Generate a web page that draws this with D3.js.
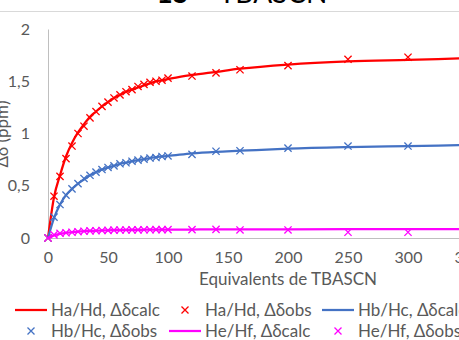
<!DOCTYPE html>
<html><head><meta charset="utf-8">
<script src="https://cdn.jsdelivr.net/npm/d3@7"></script>
<style>body{margin:0;background:#fff}svg{display:block;font-family:Lato,sans-serif}</style>
</head><body><svg id="c" width="459" height="340"></svg>
<script>
const xObs = [0,5,10,15,20,25,30,35,40,45,50,55,60,65,70,75,80,85,90,95,100,120,140,160,200,250,300];
const xCalc = [0,5,10,15,20,25,30,35,40,45,50,55,60,65,70,75,80,85,90,95,100,120,140,160,200,250,300,350];
const haCalc = [0,0.39,0.60,0.78,0.91,1.01,1.09,1.16,1.21,1.26,1.30,1.34,1.37,1.40,1.42,1.44,1.46,1.48,1.50,1.51,1.52,1.56,1.59,1.62,1.66,1.69,1.705,1.72];
const haObs  = [0,0.40,0.59,0.76,0.88,1.00,1.07,1.15,1.21,1.26,1.30,1.34,1.37,1.40,1.42,1.45,1.47,1.49,1.50,1.51,1.53,1.55,1.58,1.61,1.65,1.71,1.73];
const hbCalc = [0,0.19,0.32,0.41,0.47,0.52,0.56,0.60,0.63,0.655,0.675,0.69,0.71,0.72,0.735,0.745,0.755,0.765,0.775,0.78,0.785,0.81,0.825,0.835,0.855,0.87,0.88,0.89];
const hbObs  = [0,0.20,0.32,0.41,0.47,0.52,0.57,0.60,0.63,0.655,0.675,0.69,0.71,0.72,0.735,0.745,0.755,0.765,0.77,0.78,0.785,0.80,0.83,0.835,0.86,0.88,0.88];
const heCalc = [0,0.025,0.04,0.05,0.056,0.061,0.065,0.068,0.07,0.072,0.074,0.075,0.076,0.077,0.078,0.078,0.079,0.079,0.08,0.08,0.08,0.081,0.082,0.082,0.083,0.084,0.085,0.085];
const heObs  = [0,0.03,0.045,0.05,0.055,0.06,0.065,0.068,0.07,0.072,0.073,0.075,0.076,0.077,0.078,0.078,0.079,0.079,0.08,0.08,0.08,0.08,0.082,0.077,0.077,0.055,0.055];
const xTicks = [0,50,100,150,200,250,300,350];
const yTicks = [0,0.5,1,1.5,2];
const legendLabels = ["Ha/Hd, Δδcalc","Ha/Hd, Δδobs","Hb/Hc, Δδcalc","Hb/Hc, Δδobs","He/Hf, Δδcalc","He/Hf, Δδobs"];

const svg = d3.select("#c");
const x = d3.scaleLinear().domain([0,400]).range([48,528]);
const y = d3.scaleLinear().domain([0,2]).range([238,29]);
const grey = "#595959";

// title (mostly cropped) and top rule
const t = svg.append("text").attr("x",242).attr("y",3).attr("text-anchor","middle")
  .attr("font-size",28).attr("fill","#000");
t.append("tspan").attr("font-weight","bold").text("15");
t.append("tspan").text(" + TBASCN");
svg.append("line").attr("x1",0).attr("x2",459).attr("y1",11.5).attr("y2",11.5)
  .attr("stroke","#d9d9d9").attr("stroke-width",1);

// axes
const xa = svg.append("g").attr("transform","translate(0,238)")
  .call(d3.axisBottom(x).tickValues(xTicks).tickSize(0).tickPadding(14));
xa.select(".domain").attr("stroke","#bfbfbf");
xa.selectAll("text").attr("fill",grey).attr("font-size",16).attr("font-family","Lato,sans-serif");
const ya = svg.append("g").attr("transform","translate(48,0)")
  .call(d3.axisLeft(y).tickValues(yTicks).tickSize(0).tickPadding(18)
  .tickFormat(d=>String(d).replace(".",",")));
ya.select(".domain").attr("stroke","#bfbfbf");
ya.selectAll("text").attr("fill",grey).attr("font-size",16).attr("font-family","Lato,sans-serif");

svg.append("text").attr("x",288).attr("y",285).attr("text-anchor","middle")
  .attr("font-size",17).attr("fill",grey).text("Equivalents de TBASCN");
svg.append("text").attr("transform","translate(8,134) rotate(-90)").attr("text-anchor","middle")
  .attr("font-size",17).attr("fill",grey).text("Δδ (ppm)");

const line = d3.line().x(d=>x(d[0])).y(d=>y(d[1])).curve(d3.curveMonotoneX);
const cross = (s)=>`M${-s},${-s}L${s},${s}M${-s},${s}L${s},${-s}`;

const series = [
  {calc:haCalc, obs:haObs, color:"#ff0000"},
  {calc:hbCalc, obs:hbObs, color:"#4472c4"},
  {calc:heCalc, obs:heObs, color:"#ff00ff"}
];
series.forEach(s=>{
  svg.append("path").datum(xCalc.map((v,i)=>[v,s.calc[i]]))
    .attr("d",line).attr("fill","none").attr("stroke",s.color).attr("stroke-width",2.25);
  svg.append("g").selectAll("path").data(xObs.map((v,i)=>[v,s.obs[i]])).join("path")
    .attr("transform",d=>`translate(${x(d[0])},${y(d[1])})`)
    .attr("d",cross(3.6)).attr("fill","none").attr("stroke",s.color).attr("stroke-width",1.3);
});

// legend
const colors = ["#ff0000","#ff0000","#4472c4","#4472c4","#ff00ff","#ff00ff"];
const colX = [31,185,338];
const rowY = [310,331];
legendLabels.forEach((lab,i)=>{
  const cx = colX[i%3], cy = rowY[Math.floor(i/3)];
  if(i%2===0){
    svg.append("line").attr("x1",cx-16).attr("x2",cx+16).attr("y1",cy).attr("y2",cy)
      .attr("stroke",colors[i]).attr("stroke-width",2.25);
  } else {
    svg.append("path").attr("transform",`translate(${cx},${cy})`).attr("d",cross(3.5))
      .attr("fill","none").attr("stroke",colors[i]).attr("stroke-width",1.3);
  }
  svg.append("text").attr("x",cx+20).attr("y",cy).attr("dy","0.35em")
    .attr("font-size",17).attr("fill",grey).text(lab);
});
</script></body></html>
